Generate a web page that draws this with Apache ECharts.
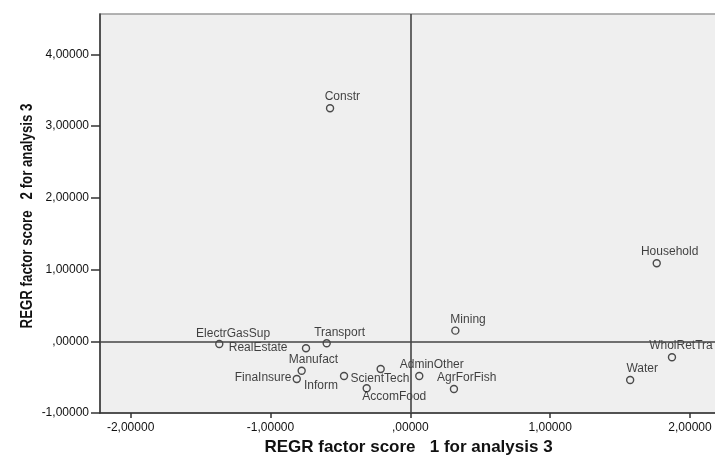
<!DOCTYPE html>
<html>
<head>
<meta charset="utf-8">
<script src="https://cdn.jsdelivr.net/npm/echarts@6/dist/echarts.min.js"></script>
<style>
html,body{margin:0;padding:0;background:#fff;}
#chart{width:715px;height:455px;}
</style>
</head>
<body>
<div id="chart"></div>
<script>
// ---- data ----
const names = ["Constr","Household","Mining","WholRetTra","Water","ElectrGasSup","Transport","RealEstate","Manufact","FinaInsure","Inform","ScientTech","AccomFood","AdminOther","AgrForFish"];
const factor1 = [-0.574, 1.762, 0.322, 1.871, 1.572, -1.366, -0.598, -0.746, -0.777, -0.812, -0.474, -0.212, -0.312, 0.064, 0.312];
const factor2 = [3.248, 1.087, 0.148, -0.223, -0.539, -0.038, -0.028, -0.098, -0.410, -0.526, -0.484, -0.386, -0.655, -0.484, -0.665];
const xTicks = [-2, -1, 0, 1, 2];
const yTicks = [-1, 0, 1, 2, 3, 4];
const xTitle = "REGR factor score   1 for analysis 3";
const yTitle = "REGR factor score   2 for analysis 3";

// ---- label layout (pixel offsets from point centre) ----
const SYM = 7;
const labelOffsets = {
  Constr:[13,-11], Household:[13.6,-10.6], Mining:[13.4,-10.7], WholRetTra:[9.7,-10.6],
  Water:[12.7,-10.7], ElectrGasSup:[14.5,-10], Transport:[13.6,-10], RealEstate:[-47.2,0],
  Manufact:[12.5,-10.7], FinaInsure:[-33,-0.7], Inform:[-22.3,10.7], ScientTech:[0,10.3],
  AccomFood:[28.3,9.4], AdminOther:[13.2,-11], AgrForFish:[13.5,-10.7]
};

function fmt(v){
  let s = Number(v).toFixed(5).replace('.', ',');
  s = s.replace(/^(-?)0,/, '$1,');
  return s;
}

const points = names.map((n,i)=>{
  const o = labelOffsets[n] || [0,-11];
  return {
    name: n,
    value: [factor1[i], factor2[i]],
    label: { position: [SYM/2 + o[0], SYM/2 + o[1]], align: 'center', verticalAlign: 'middle' }
  };
});

const FONT = 'Liberation Sans, Arial, sans-serif';
const chart = echarts.init(document.getElementById('chart'), null, {renderer:'canvas'});
chart.setOption({
  animation: false,
  backgroundColor: '#ffffff',
  grid: {
    left: 100, right: -2, top: 14, bottom: 42,
    outerBoundsMode: 'none', containLabel: false,
    show: true, backgroundColor: '#efefef', borderColor: '#9a9a9a', borderWidth: 1.5
  },
  xAxis: {
    type: 'value', min: -2.219, max: 2.193,
    name: xTitle, nameLocation: 'middle', nameGap: 20,
    nameTextStyle: {fontFamily: FONT, fontWeight: 'bold', fontSize: 17, color: '#111'},
    axisLine: {show: true, onZero: false, lineStyle: {color: '#333', width: 1.5}},
    axisTick: {show: true, customValues: xTicks, length: 5, lineStyle: {color: '#333', width: 1.5}},
    axisLabel: {customValues: xTicks, formatter: fmt, margin: 9, fontFamily: FONT, fontSize: 12, color: '#111'},
    splitLine: {show: false}
  },
  yAxis: {
    type: 'value', min: -1, max: 4.562,
    axisLine: {show: true, onZero: false, lineStyle: {color: '#333', width: 1.5}},
    axisTick: {show: true, customValues: yTicks, length: 9, lineStyle: {color: '#333', width: 1.5}},
    axisLabel: {customValues: yTicks, formatter: fmt, margin: 11, fontFamily: FONT, fontSize: 12, color: '#111'},
    splitLine: {show: false}
  },
  graphic: [{
    type: 'text',
    x: 27, y: 216,
    rotation: Math.PI / 2,
    scaleX: 0.78,
    silent: true,
    style: {
      text: yTitle,
      font: 'bold 17px ' + FONT,
      fill: '#111',
      align: 'center', verticalAlign: 'middle',
      textAlign: 'center', textVerticalAlign: 'middle'
    }
  }],
  series: [{
    type: 'scatter',
    data: points,
    symbol: 'circle',
    symbolSize: SYM,
    itemStyle: {color: 'rgba(0,0,0,0)', borderColor: '#222', borderWidth: 1.4},
    label: {
      show: true, formatter: p => p.name,
      fontFamily: FONT, fontSize: 12, color: '#111',
      align: 'center', verticalAlign: 'middle'
    },
    labelLayout: {hideOverlap: false},
    markLine: {
      silent: true, symbol: 'none', animation: false,
      label: {show: false},
      lineStyle: {color: '#444', width: 1.6, type: 'solid'},
      data: [{xAxis: 0}, {yAxis: 0}]
    }
  }]
});
</script>
</body>
</html>
